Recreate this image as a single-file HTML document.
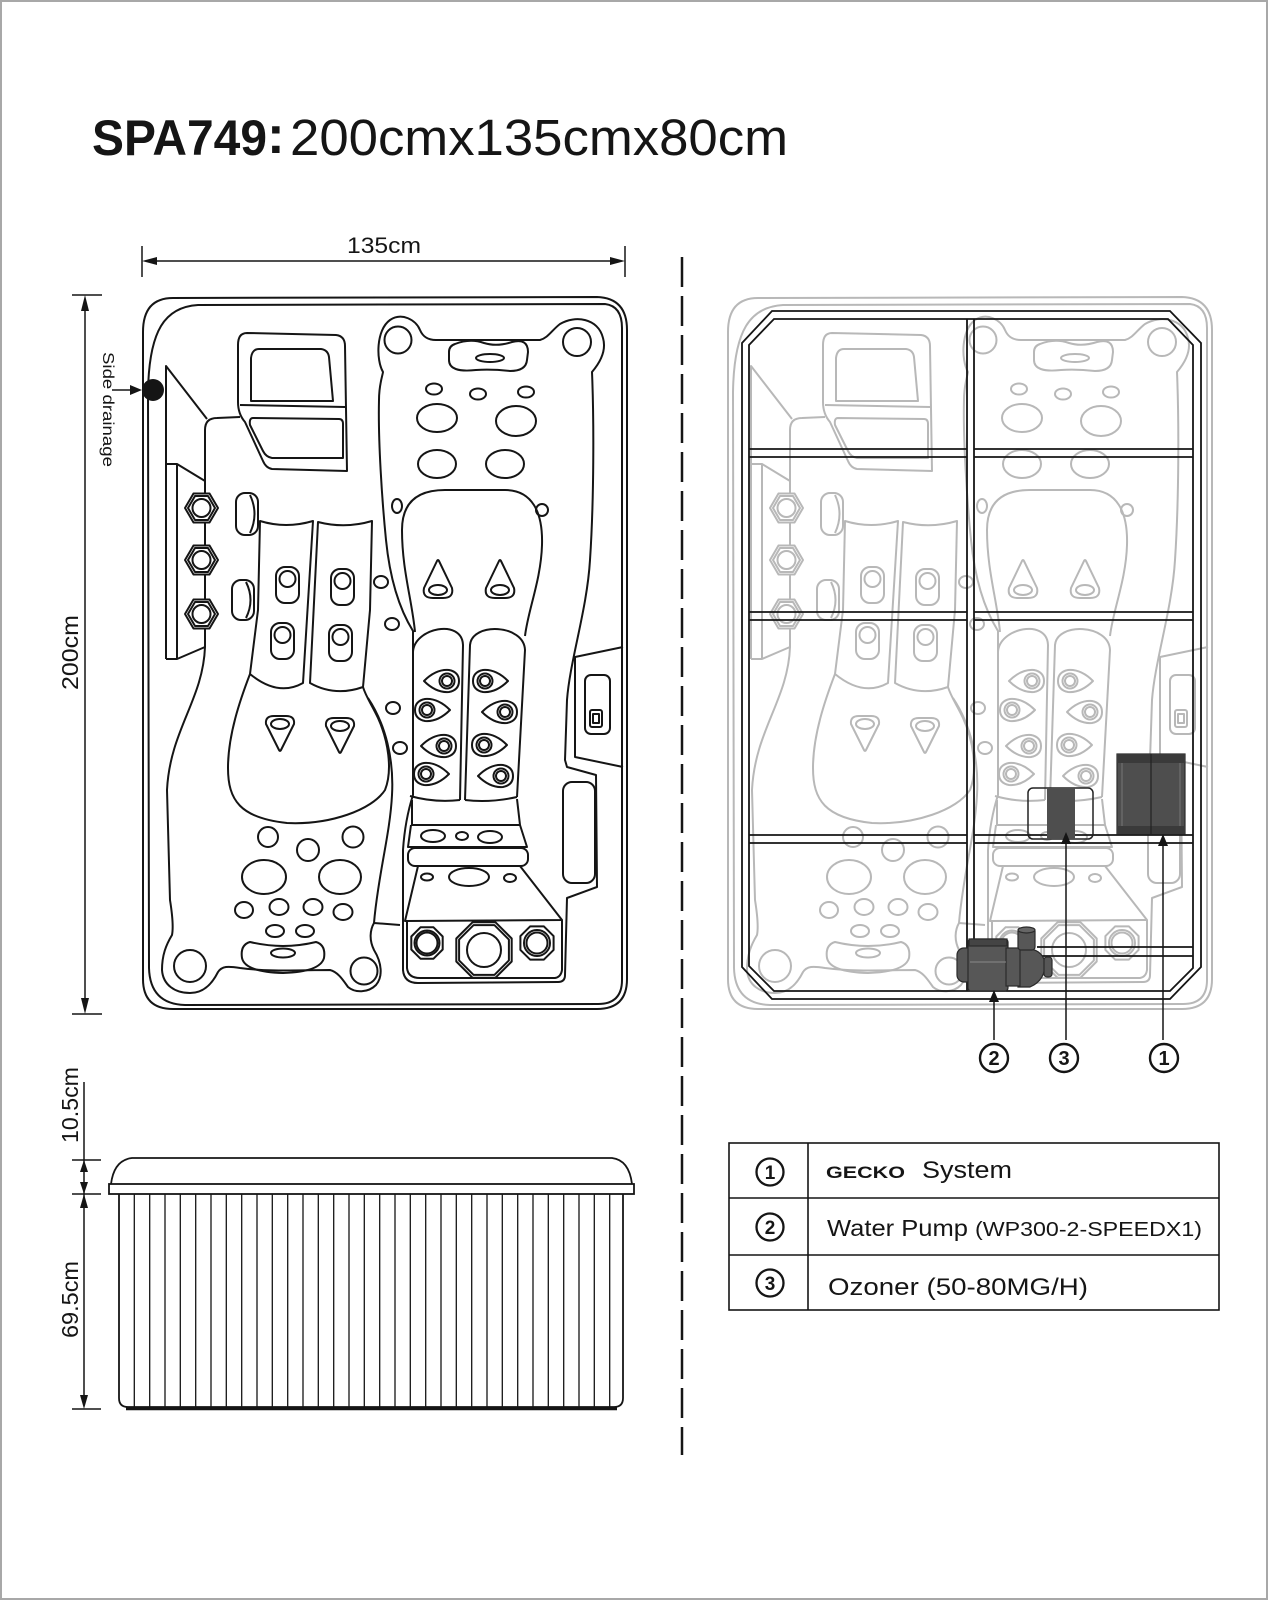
<!DOCTYPE html>
<html><head><meta charset="utf-8"><style>
html,body{margin:0;padding:0;background:#fff;}
svg{display:block;}
text{font-family:"Liberation Sans",Arial,sans-serif;fill:#151515;}
</style></head><body>
<svg width="1268" height="1600" viewBox="0 0 1268 1600" xmlns="http://www.w3.org/2000/svg">
<rect x="1" y="1" width="1266" height="1598" fill="#fff" stroke="#a8a8a8" stroke-width="2"/>

<!-- Title -->
<text x="92" y="155" font-weight="bold" font-size="50" textLength="175" lengthAdjust="spacingAndGlyphs">SPA749</text>
<text x="267" y="153" font-weight="bold" font-size="53">:</text>
<text x="290" y="155" font-size="51" textLength="498" lengthAdjust="spacingAndGlyphs">200cmx135cmx80cm</text>

<defs>
<g id="eye">
<path d="M-17,0 Q-5,-12 8,-11 Q18,-9 18,0 Q18,9 8,11 Q-5,12 -17,0 Z"/>
<circle cx="6" cy="0" r="7.5"/><circle cx="6" cy="0" r="5"/>
</g>
<g id="spa" fill="none" stroke="currentColor" stroke-width="2" stroke-linejoin="round">
<!-- outer outlines -->
<path d="M173,298 L597,297 Q627,298 627,330 L627,979 Q627,1009 597,1009 L173,1009 Q143,1009 143,979 L143,332 Q143,298 173,298 Z"/>
<path d="M198,305 L605,304 Q622,306 622,328 L622,980 Q622,1004 598,1004 L185,1005 Q150,1004 149,968 L148,392 C149,330 165,307 198,305 Z"/>
<!-- triangle & jet panel -->
<path d="M166,659 L166,366 L207,419"/>
<path d="M205,481 L205,430 Q205,418 217,418 L240,417"/>
<path d="M166,464 L177,464 L205,481 M177,464 L177,659 M166,659 L177,659 L205,647 M205,481 L205,647"/>
<!-- hex jets -->
<g fill="#fff">
<polygon points="185,508 193.5,493.5 209.5,493.5 218,508 209.5,522.5 193.5,522.5"/>
<polygon points="188,508 195,496 208,496 215,508 208,520 195,520"/>
<circle cx="201.5" cy="508" r="9"/>
<polygon points="185,560 193.5,545.5 209.5,545.5 218,560 209.5,574.5 193.5,574.5"/>
<polygon points="188,560 195,548 208,548 215,560 208,572 195,572"/>
<circle cx="201.5" cy="560" r="9"/>
<polygon points="185,614 193.5,599.5 209.5,599.5 218,614 209.5,628.5 193.5,628.5"/>
<polygon points="188,614 195,602 208,602 215,614 208,626 195,626"/>
<circle cx="201.5" cy="614" r="9"/>
</g>
<!-- headrest box -->
<path d="M247,333 L336,335 Q345,336 345,346 L347,471 L272,469 Q266,468 263,461 L245,422 Q238,414 238,402 L238,345 Q238,333 247,333 Z"/>
<path d="M259,349 L321,349 Q328,350 329,357 L333,401 L251,401 L251,358 Q252,349 259,349 Z"/>
<path d="M240,405 L345,407"/>
<path d="M253,418 L339,419 Q343,419 343,424 L343,458 L272,458 Q266,457 263,451 L250,425 Q249,418 253,418 Z"/>
<!-- cylinder jets -->
<rect x="236" y="493" width="22" height="42" rx="9"/><path d="M250,495 Q259,514 250,533"/>
<rect x="232" y="580" width="22" height="40" rx="9"/><path d="M246,582 Q255,600 246,618"/>
<!-- lounger back panels -->
<path d="M260,521 Q286,529 313,521 L303,683 Q278,697 250,674 L258,610 Z"/>
<path d="M318,522 Q345,529 372,521 L370,610 L363,687 Q335,697 310,683 Z"/>
<path d="M250,674 C240,700 228,735 228,768 C228,800 240,818 287,823 C330,825 372,810 385,790 C393,770 388,740 378,718 C372,705 366,697 363,687"/>
<path d="M368,698 C386,725 394,760 392,795 C390,835 378,875 374,923 L400,925"/>
<!-- rect jets -->
<rect x="276" y="567" width="23" height="36" rx="9"/><circle cx="287.5" cy="579" r="8"/>
<rect x="331" y="569" width="23" height="36" rx="9"/><circle cx="342.5" cy="581" r="8"/>
<rect x="271" y="623" width="23" height="36" rx="9"/><circle cx="282.5" cy="635" r="8"/>
<rect x="329" y="625" width="23" height="36" rx="9"/><circle cx="340.5" cy="637" r="8"/>
<!-- lounger teardrops -->
<path d="M266,724 Q265,716 274,716 L286,716 Q295,716 294,724 L281,750 Q280,752 279,750 Z"/><ellipse cx="280" cy="724" rx="9" ry="5"/>
<path d="M326,726 Q325,718 334,718 L346,718 Q355,718 354,726 L341,752 Q340,754 339,752 Z"/><ellipse cx="340" cy="726" rx="9" ry="5"/>
<!-- channel circles -->
<ellipse cx="381" cy="582" rx="7" ry="6"/><ellipse cx="392" cy="624" rx="7" ry="6"/>
<ellipse cx="393" cy="708" rx="7" ry="6"/><ellipse cx="400" cy="748" rx="7" ry="6"/>
<!-- bottom lounger jets -->
<circle cx="268" cy="837" r="10"/><circle cx="308" cy="850" r="11"/><circle cx="353" cy="837" r="10.5"/>
<ellipse cx="264" cy="877" rx="22" ry="17"/><ellipse cx="340" cy="877" rx="21" ry="17"/>
<ellipse cx="244" cy="910" rx="9" ry="8"/><ellipse cx="279" cy="907" rx="9.5" ry="8"/>
<ellipse cx="313" cy="907" rx="9.5" ry="8"/><ellipse cx="343" cy="912" rx="9.5" ry="8"/>
<ellipse cx="275" cy="931" rx="9" ry="6"/><ellipse cx="305" cy="931" rx="9" ry="6"/>
<path d="M250,942 Q283,950 316,942 Q326,945 324,958 Q320,972 283,973 Q245,972 242,958 Q240,945 250,942 Z"/>
<ellipse cx="283" cy="953" rx="12" ry="4.5"/>
<circle cx="190" cy="966" r="16"/><circle cx="364" cy="971" r="13.5"/>
<!-- left contour -->
<path d="M205,647 C203,700 170,730 167,790 L170,900 Q174,925 172,935 C166,945 162,955 162,970 C163,985 175,993 190,993 C205,993 213,982 218,972 C222,966 228,966 240,968 C270,972 300,970 330,970 C338,972 343,980 348,987 C355,993 368,993 376,985 C383,977 382,963 374,950 C369,940 370,930 374,923"/>
<!-- bench contour -->
<path d="M413,631 C400,610 390,580 386,540 C382,500 378,440 379,400 C379,385 382,378 383,372 C376,360 376,330 390,320 C402,312 416,320 420,330 C423,337 428,340 436,340 L540,340 C548,338 552,330 560,324 C575,315 598,318 603,338 C607,352 598,365 592,372 C594,420 594,500 590,560 C587,610 570,660 567,700 L565,760 L567,767 L596,775 L597,887 L567,898 L565,975 Q565,982 558,982 L418,983 Q404,983 403,970 L403,850 Q405,820 413,795 Z"/>
<circle cx="398" cy="340" r="13.5"/><circle cx="577" cy="342" r="14"/>
<!-- bench interior -->
<path d="M455,344 Q470,338 484,343 Q497,347 512,342 Q528,338 528,352 L527,360 Q526,371 510,371 Q492,369 476,370 Q449,373 449,360 L449,352 Q449,346 455,344 Z"/>
<ellipse cx="490" cy="358" rx="14" ry="4"/>
<ellipse cx="434" cy="389" rx="8" ry="5.5"/><ellipse cx="478" cy="394" rx="8" ry="5.5"/><ellipse cx="526" cy="392" rx="8" ry="5.5"/>
<ellipse cx="437" cy="418" rx="20" ry="14"/><ellipse cx="516" cy="421" rx="20" ry="15"/>
<ellipse cx="437" cy="464" rx="19" ry="14"/><ellipse cx="505" cy="464" rx="19" ry="14"/>
<ellipse cx="397" cy="506" rx="5" ry="7"/><ellipse cx="542" cy="510" rx="6" ry="6"/>
<path d="M415,632 C412,600 402,570 402,530 C402,500 420,490 445,490 L505,490 C532,490 543,512 542,545 C541,580 528,610 525,636"/>
<path d="M437,561 Q438,559 439,561 L452,588 Q454,598 443,598 L433,598 Q422,598 424,588 Z"/><ellipse cx="438" cy="590" rx="9" ry="5"/>
<path d="M499,561 Q500,559 501,561 L514,588 Q516,598 505,598 L495,598 Q484,598 486,588 Z"/><ellipse cx="500" cy="590" rx="9" ry="5"/>
<!-- leg rests -->
<path d="M413,652 C414,628 462,618 463,645 L460,800"/>
<path d="M465,800 L470,645 C472,622 524,624 525,650 L517,797"/>
<path d="M410,796 Q435,803 460,800 M465,800 Q490,803 517,797"/>
<use href="#eye" transform="translate(441,681)"/>
<use href="#eye" transform="translate(433,710) scale(-1,1)"/>
<use href="#eye" transform="translate(438,746)"/>
<use href="#eye" transform="translate(432,774) scale(-1,1)"/>
<use href="#eye" transform="translate(491,681) scale(-1,1)"/>
<use href="#eye" transform="translate(499,712)"/>
<use href="#eye" transform="translate(490,745) scale(-1,1)"/>
<use href="#eye" transform="translate(495,776)"/>
<!-- footwell -->
<path d="M412,800 L412,825 L520,825 L517,799"/>
<path d="M411,825 L408,847 L527,847 L520,825"/>
<ellipse cx="433" cy="836" rx="12" ry="6"/><ellipse cx="462" cy="836" rx="6" ry="4"/><ellipse cx="490" cy="837" rx="12" ry="6"/>
<rect x="408" y="848" width="120" height="18" rx="7"/>
<path d="M418,866 L405,921 L562,920 L520,866"/>
<ellipse cx="427" cy="877" rx="6" ry="3.5"/><ellipse cx="469" cy="877" rx="20" ry="9"/><ellipse cx="510" cy="878" rx="6" ry="4"/>
<path d="M407,922 L407,968 Q408,978 420,978 L555,978 Q561,977 562,970 L562,920"/>
<polygon points="442.7,936.5 433.5,927.3 420.5,927.3 411.3,936.5 411.3,949.5 420.5,958.7 433.5,958.7 442.7,949.5"/>
<circle cx="427" cy="943" r="12.5"/><circle cx="427" cy="943" r="10.5"/>
<polygon points="511.7,938.5 495.5,922.3 472.5,922.3 456.3,938.5 456.3,961.5 472.5,977.7 495.5,977.7 511.7,961.5"/>
<polygon points="508.9,939.6 494.4,925.1 473.6,925.1 459.1,939.6 459.1,960.4 473.6,974.9 494.4,974.9 508.9,960.4"/>
<circle cx="484" cy="950" r="17"/>
<polygon points="553.6,936.1 543.9,926.4 530.1,926.4 520.4,936.1 520.4,949.9 530.1,959.6 543.9,959.6 553.6,949.9"/>
<circle cx="537" cy="943" r="13"/><circle cx="537" cy="943" r="10.5"/>
<!-- side panel, cup holder, grab bar -->
<path d="M623,647 L575,657 L575,757 L623,767"/>
<rect x="585" y="675" width="25" height="59" rx="6"/>
<rect x="590" y="710" width="12" height="17" rx="2"/>
<rect x="593" y="714" width="6" height="9"/>
<rect x="563" y="782" width="32" height="101" rx="9"/>
</g>
</defs>

<!-- Left spa (black) -->
<use href="#spa" style="color:#151515"/>
<circle cx="153" cy="390" r="11" fill="#151515"/>
<line x1="112" y1="390" x2="134" y2="390" stroke="#151515" stroke-width="1.5"/>
<polygon points="142,390 130,385 130,395" fill="#151515"/>
<text transform="translate(103,352) rotate(90)" font-size="16" textLength="115" lengthAdjust="spacingAndGlyphs">Side drainage</text>

<!-- 135cm / 200cm dimensions -->
<g stroke="#151515" stroke-width="1.5" fill="none">
<line x1="142" y1="246" x2="142" y2="277"/>
<line x1="625" y1="246" x2="625" y2="277"/>
<line x1="146" y1="261" x2="621" y2="261"/>
<line x1="85" y1="299" x2="85" y2="1010"/>
<line x1="72" y1="295" x2="102" y2="295"/>
<line x1="72" y1="1014" x2="102" y2="1014"/>
</g>
<polygon points="142,261 157,257 157,265" fill="#151515"/>
<polygon points="625,261 610,257 610,265" fill="#151515"/>
<polygon points="85,295 81,311 89,311" fill="#151515"/>
<polygon points="85,1014 81,998 89,998" fill="#151515"/>
<text x="384" y="253" text-anchor="middle" font-size="22" textLength="74" lengthAdjust="spacingAndGlyphs">135cm</text>
<text transform="translate(78,690) rotate(-90)" font-size="23" textLength="75" lengthAdjust="spacingAndGlyphs">200cm</text>

<!-- Side view -->
<g stroke="#151515" stroke-width="1.8" fill="none">
<path d="M111,1184 Q114,1160 132,1158 L612,1158 Q629,1160 632,1184"/>
<rect x="109" y="1184" width="525" height="10"/>
<path d="M119,1194 L119,1398 Q119,1407 128,1407 L614,1407 Q623,1407 623,1398 L623,1194"/>
</g>
<line x1="126" y1="1408.5" x2="617" y2="1408.5" stroke="#151515" stroke-width="3.5"/>
<g stroke="#151515" stroke-width="1.3">
<line x1="134.3" y1="1194" x2="134.3" y2="1407"/><line x1="149.7" y1="1194" x2="149.7" y2="1407"/>
<line x1="165" y1="1194" x2="165" y2="1407"/><line x1="180.3" y1="1194" x2="180.3" y2="1407"/>
<line x1="195.7" y1="1194" x2="195.7" y2="1407"/><line x1="211" y1="1194" x2="211" y2="1407"/>
<line x1="226.3" y1="1194" x2="226.3" y2="1407"/><line x1="241.7" y1="1194" x2="241.7" y2="1407"/>
<line x1="257" y1="1194" x2="257" y2="1407"/><line x1="272.3" y1="1194" x2="272.3" y2="1407"/>
<line x1="287.7" y1="1194" x2="287.7" y2="1407"/><line x1="303" y1="1194" x2="303" y2="1407"/>
<line x1="318.3" y1="1194" x2="318.3" y2="1407"/><line x1="333.7" y1="1194" x2="333.7" y2="1407"/>
<line x1="349" y1="1194" x2="349" y2="1407"/><line x1="364.3" y1="1194" x2="364.3" y2="1407"/>
<line x1="379.7" y1="1194" x2="379.7" y2="1407"/><line x1="395" y1="1194" x2="395" y2="1407"/>
<line x1="410.3" y1="1194" x2="410.3" y2="1407"/><line x1="425.7" y1="1194" x2="425.7" y2="1407"/>
<line x1="441" y1="1194" x2="441" y2="1407"/><line x1="456.3" y1="1194" x2="456.3" y2="1407"/>
<line x1="471.7" y1="1194" x2="471.7" y2="1407"/><line x1="487" y1="1194" x2="487" y2="1407"/>
<line x1="502.3" y1="1194" x2="502.3" y2="1407"/><line x1="517.7" y1="1194" x2="517.7" y2="1407"/>
<line x1="533" y1="1194" x2="533" y2="1407"/><line x1="548.3" y1="1194" x2="548.3" y2="1407"/>
<line x1="563.7" y1="1194" x2="563.7" y2="1407"/><line x1="579" y1="1194" x2="579" y2="1407"/>
<line x1="594.3" y1="1194" x2="594.3" y2="1407"/><line x1="609.7" y1="1194" x2="609.7" y2="1407"/>
</g>
<!-- side dims -->
<g stroke="#151515" stroke-width="1.5">
<line x1="84" y1="1082" x2="84" y2="1405"/>
<line x1="72" y1="1160" x2="101" y2="1160"/>
<line x1="72" y1="1194" x2="101" y2="1194"/>
<line x1="72" y1="1409" x2="101" y2="1409"/>
</g>
<g fill="#151515">
<polygon points="84,1160 80,1172 88,1172"/>
<polygon points="84,1194 80,1182 88,1182"/>
<polygon points="84,1194 80,1208 88,1208"/>
<polygon points="84,1409 80,1395 88,1395"/>
</g>
<text transform="translate(78,1143) rotate(-90)" font-size="23" textLength="76" lengthAdjust="spacingAndGlyphs">10.5cm</text>
<text transform="translate(78,1338) rotate(-90)" font-size="23" textLength="77" lengthAdjust="spacingAndGlyphs">69.5cm</text>

<!-- dashed divider -->
<line x1="682" y1="257" x2="682" y2="1455" stroke="#151515" stroke-width="2.5" stroke-dasharray="30 9"/>

<!-- Right spa (grey) -->
<use href="#spa" transform="translate(585,0)" style="color:#b8b8b8"/>

<!-- frame -->
<g stroke="#151515" stroke-width="1.8" fill="none">
<path d="M772,311 L1170,311 L1201,343 L1201,967 L1170,999 L772,999 L742,967 L742,343 Z"/>
<path d="M774,319 L1168,319 L1193,345 L1193,968 L1170,991 L774,991 L749,966 L749,345 Z"/>
<line x1="967" y1="319" x2="967" y2="991"/>
<line x1="974" y1="319" x2="974" y2="991"/>
<path d="M749,449 L967,449 M749,457 L967,457 M974,449 L1193,449 M974,457 L1193,457"/>
<path d="M749,612 L967,612 M749,620 L967,620 M974,612 L1193,612 M974,620 L1193,620"/>
<path d="M749,835 L967,835 M749,843 L967,843 M974,835 L1193,835 M974,843 L1193,843"/>
<path d="M1037,947 L1193,947 M1037,956 L1193,956"/>
</g>

<!-- GECKO box -->
<rect x="1117" y="754" width="68" height="80" fill="#4e4e4e" stroke="#2a2a2a" stroke-width="1.2"/>
<rect x="1117" y="754" width="68" height="9" fill="#3a3a3a"/>
<rect x="1117" y="826" width="68" height="8" fill="#3a3a3a"/>
<line x1="1151" y1="754" x2="1151" y2="834" stroke="#222" stroke-width="1.2"/>
<line x1="1122" y1="763" x2="1122" y2="826" stroke="#777" stroke-width="1"/>
<line x1="1180" y1="763" x2="1180" y2="826" stroke="#777" stroke-width="1"/>
<!-- Ozoner -->
<rect x="1028" y="788" width="65" height="51" rx="5" fill="none" stroke="#222" stroke-width="1.5"/>
<rect x="1047" y="788" width="28" height="51" fill="#4e4e4e"/>
<!-- Pump -->
<g fill="#575757" stroke="#2a2a2a" stroke-width="1.2">
<rect x="957" y="948" width="17" height="34" rx="7"/>
<rect x="968" y="939" width="40" height="52" rx="3"/>
<rect x="969" y="939" width="38" height="7" fill="#444"/>
<path d="M1018,950 Q1040,945 1045,962 Q1046,980 1030,987 L1018,987 Z"/>
<rect x="1006" y="948" width="14" height="38"/>
<rect x="1018" y="928" width="17" height="22" rx="3"/>
<ellipse cx="1026.5" cy="930" rx="8.5" ry="3" fill="#666"/>
<rect x="1044" y="957" width="8" height="20" rx="3"/>
</g>
<line x1="970" y1="962" x2="1006" y2="962" stroke="#888" stroke-width="1"/>

<!-- leaders -->
<g stroke="#151515" stroke-width="1.5">
<line x1="994" y1="1040" x2="994" y2="999"/>
<line x1="1066" y1="1040" x2="1066" y2="841"/>
<line x1="1163" y1="1040" x2="1163" y2="843"/>
</g>
<g fill="#151515">
<polygon points="994,990 989,1002 999,1002"/>
<polygon points="1066,832 1061,844 1071,844"/>
<polygon points="1163,834 1158,846 1168,846"/>
</g>
<g fill="none" stroke="#151515" stroke-width="2.4">
<circle cx="994" cy="1058" r="14"/><circle cx="1064" cy="1058" r="14"/><circle cx="1164" cy="1058" r="14"/>
</g>
<g font-size="20" font-weight="bold" text-anchor="middle">
<text x="994" y="1065">2</text><text x="1064" y="1065">3</text><text x="1164" y="1065">1</text>
</g>

<!-- Table -->
<g stroke="#151515" stroke-width="1.6" fill="none">
<rect x="729" y="1143" width="490" height="167"/>
<line x1="729" y1="1198" x2="1219" y2="1198"/>
<line x1="729" y1="1255" x2="1219" y2="1255"/>
<line x1="808" y1="1143" x2="808" y2="1310"/>
</g>
<g fill="none" stroke="#151515" stroke-width="2.3">
<circle cx="770" cy="1172" r="13.5"/><circle cx="770" cy="1227" r="13.5"/><circle cx="770" cy="1283" r="13.5"/>
</g>
<g font-size="19" font-weight="bold" text-anchor="middle">
<text x="770" y="1179">1</text><text x="770" y="1234">2</text><text x="770" y="1290">3</text>
</g>
<text x="826" y="1178" font-size="17" font-weight="bold" textLength="79" lengthAdjust="spacingAndGlyphs">GECKO</text>
<text x="922" y="1178" font-size="24" textLength="90" lengthAdjust="spacingAndGlyphs">System</text>
<text x="827" y="1236" font-size="23" textLength="141" lengthAdjust="spacingAndGlyphs">Water Pump</text>
<text x="975" y="1236" font-size="20" textLength="227" lengthAdjust="spacingAndGlyphs">(WP300-2-SPEEDX1)</text>
<text x="828" y="1295" font-size="24" textLength="260" lengthAdjust="spacingAndGlyphs">Ozoner (50-80MG/H)</text>
</svg>
</body></html>
